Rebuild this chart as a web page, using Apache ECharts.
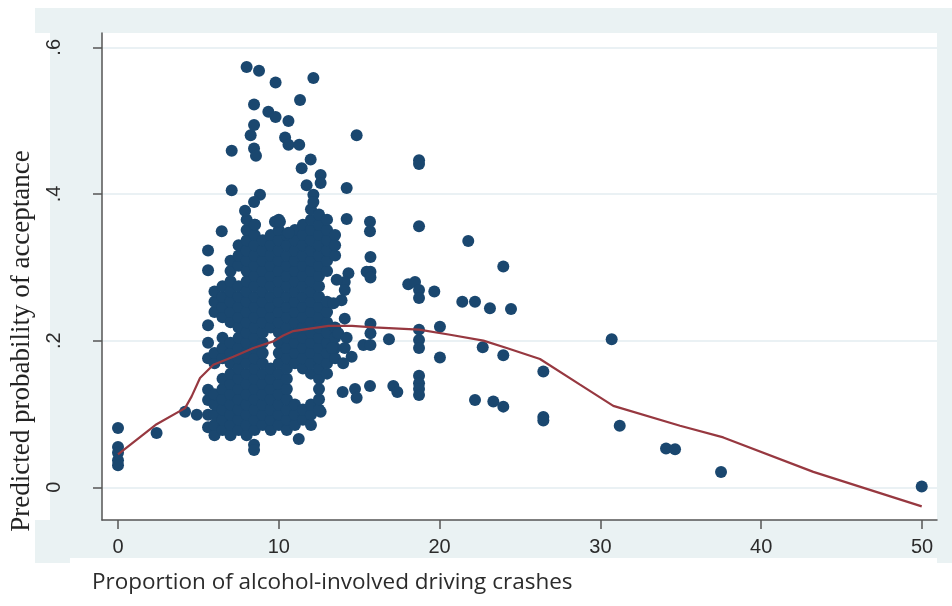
<!DOCTYPE html>
<html>
<head>
<meta charset="utf-8">
<script src="https://cdn.jsdelivr.net/npm/echarts@6/dist/echarts.min.js"></script>
<style>
  html, body { margin: 0; padding: 0; background: #fff; }
  #chart { width: 952px; height: 606px; }
</style>
</head>
<body>
<div id="chart"></div>
<script>
// tick labels
var xTicks = [0, 10, 20, 30, 40, 50];
var yTicks = [0, 0.2, 0.4, 0.6];
var yTickText = ['0', '.2', '.4', '.6'];

// scattered points [x, y]
var leftPoints = [
  [0, 0.081], [0, 0.055], [0, 0.047], [0, 0.037], [0, 0.030],
  [2.4, 0.074], [4.17, 0.103], [4.9, 0.099],
  [8.46, 0.058], [8.46, 0.051], [11.24, 0.066], [12.6, 0.103]
];

// dense block, one entry per column: [x, [y values]]
var clusterColumns = [
  [5.6, [0.082, 0.099, 0.119, 0.133, 0.176, 0.197, 0.221, 0.296, 0.323]],
  [6.0, [0.071, 0.085, 0.099, 0.113, 0.127, 0.169, 0.183, 0.239, 0.253, 0.267]],
  [6.5, [0.078, 0.092, 0.106, 0.120, 0.134, 0.148, 0.176, 0.190, 0.204, 0.232, 0.246, 0.260, 0.274]],
  [7.0, [0.071, 0.085, 0.099, 0.113, 0.127, 0.141, 0.155, 0.169, 0.183, 0.197, 0.225, 0.239, 0.253, 0.267, 0.281, 0.295, 0.309]],
  [7.5, [0.078, 0.092, 0.106, 0.120, 0.134, 0.148, 0.162, 0.176, 0.190, 0.204, 0.218, 0.232, 0.246, 0.260, 0.274, 0.302, 0.316, 0.330]],
  [8.0, [0.071, 0.085, 0.099, 0.113, 0.127, 0.141, 0.155, 0.169, 0.183, 0.197, 0.211, 0.225, 0.239, 0.253, 0.267, 0.281, 0.295, 0.309, 0.323, 0.337, 0.351, 0.365]],
  [8.5, [0.078, 0.092, 0.106, 0.120, 0.134, 0.148, 0.162, 0.176, 0.190, 0.204, 0.218, 0.232, 0.246, 0.260, 0.274, 0.288, 0.302, 0.316, 0.330, 0.344, 0.358]],
  [9.0, [0.085, 0.099, 0.113, 0.127, 0.141, 0.155, 0.169, 0.183, 0.197, 0.211, 0.225, 0.239, 0.253, 0.267, 0.281, 0.295, 0.309, 0.323, 0.337]],
  [9.5, [0.078, 0.092, 0.106, 0.120, 0.134, 0.148, 0.162, 0.218, 0.232, 0.246, 0.260, 0.274, 0.288, 0.302, 0.316, 0.330, 0.344]],
  [10.0, [0.085, 0.099, 0.113, 0.127, 0.141, 0.155, 0.169, 0.183, 0.197, 0.211, 0.225, 0.239, 0.253, 0.267, 0.281, 0.295, 0.309, 0.323, 0.337, 0.351, 0.365]],
  [10.5, [0.078, 0.092, 0.106, 0.120, 0.134, 0.148, 0.162, 0.176, 0.190, 0.204, 0.218, 0.232, 0.246, 0.260, 0.274, 0.288, 0.302, 0.316, 0.330, 0.344]],
  [11.0, [0.085, 0.099, 0.113, 0.169, 0.183, 0.197, 0.211, 0.225, 0.239, 0.253, 0.267, 0.281, 0.295, 0.309, 0.323, 0.337, 0.351]],
  [11.5, [0.092, 0.106, 0.162, 0.176, 0.190, 0.204, 0.218, 0.232, 0.246, 0.260, 0.274, 0.288, 0.302, 0.316, 0.330, 0.344, 0.358]],
  [12.0, [0.085, 0.099, 0.113, 0.155, 0.169, 0.183, 0.197, 0.211, 0.225, 0.239, 0.253, 0.267, 0.281, 0.295, 0.309, 0.323, 0.337, 0.351, 0.365, 0.379]],
  [12.5, [0.106, 0.120, 0.134, 0.148, 0.162, 0.176, 0.190, 0.204, 0.218, 0.232, 0.246, 0.260, 0.274, 0.288, 0.302, 0.316, 0.330, 0.344, 0.358, 0.372]],
  [13.0, [0.155, 0.169, 0.183, 0.197, 0.211, 0.225, 0.239, 0.253, 0.295, 0.309, 0.323, 0.337, 0.351, 0.365]],
  [13.5, [0.176, 0.190, 0.204, 0.218, 0.316, 0.330, 0.344]]
];

var upperPoints = [
  [8.0, 0.573], [8.77, 0.568], [9.8, 0.552], [12.15, 0.558], [8.46, 0.522], [11.32, 0.528],
  [9.35, 0.512], [9.8, 0.505], [10.6, 0.4995], [14.84, 0.480], [8.46, 0.494], [8.25, 0.480],
  [10.39, 0.477], [10.6, 0.467], [11.27, 0.467], [7.07, 0.459], [8.46, 0.462], [8.58, 0.452],
  [11.98, 0.447], [11.42, 0.435], [12.6, 0.426], [11.73, 0.412], [12.6, 0.415], [12.15, 0.399],
  [12.15, 0.389], [14.22, 0.408], [7.07, 0.405], [8.83, 0.399], [8.46, 0.389], [7.9, 0.377],
  [6.45, 0.349], [8.52, 0.358], [9.76, 0.362], [10.07, 0.362], [10.6, 0.347], [14.22, 0.366],
  [15.67, 0.362], [15.67, 0.349]
];

var rightPoints = [
  [18.72, 0.446], [18.72, 0.441], [18.72, 0.356], [15.7, 0.314], [15.7, 0.294], [15.46, 0.294],
  [15.7, 0.286], [14.33, 0.292], [14.1, 0.280], [14.1, 0.269], [13.9, 0.255], [13.6, 0.283],
  [13.4, 0.251], [18.05, 0.277], [18.47, 0.280], [18.72, 0.269], [18.72, 0.258], [19.67, 0.267],
  [14.1, 0.230], [13.7, 0.210], [14.22, 0.204], [13.3, 0.190], [20.02, 0.219], [15.7, 0.223],
  [15.7, 0.210], [15.26, 0.194], [15.7, 0.194], [16.85, 0.202], [18.72, 0.215], [18.72, 0.201],
  [18.72, 0.190], [20.02, 0.177], [14.1, 0.190], [14.53, 0.178], [14.0, 0.169], [13.97, 0.130],
  [14.74, 0.134], [14.84, 0.122], [15.67, 0.138], [17.12, 0.138], [17.37, 0.130], [18.72, 0.152],
  [18.72, 0.142], [18.72, 0.134], [18.72, 0.126],
  [21.78, 0.336], [23.96, 0.301], [21.41, 0.253], [22.2, 0.253], [23.13, 0.244], [24.44, 0.243],
  [22.68, 0.191], [23.96, 0.180], [26.45, 0.158], [22.2, 0.119], [23.34, 0.117], [23.96, 0.110],
  [26.45, 0.096], [26.45, 0.091], [30.7, 0.202], [31.2, 0.084],
  [34.08, 0.053], [34.64, 0.052], [37.5, 0.021], [49.98, 0.001]
];

// fitted curve
var fitLine = [
  [0, 0.045], [2.4, 0.086], [4.17, 0.108], [4.58, 0.124], [5.1, 0.149], [5.93, 0.167],
  [7.17, 0.178], [8.42, 0.190], [9.66, 0.199], [10.28, 0.207], [10.9, 0.213], [12.15, 0.217],
  [13.1, 0.220], [14.55, 0.220], [15.9, 0.218], [18.72, 0.215], [20.65, 0.208], [22.72, 0.200],
  [24.17, 0.190], [26.24, 0.175], [28.73, 0.140], [30.8, 0.111], [34.95, 0.084], [37.64, 0.068],
  [43.24, 0.021], [49.98, -0.026]
];

var scatterData = [].concat(leftPoints);
clusterColumns.forEach(function (col) {
  col[1].forEach(function (y) { scatterData.push([col[0], y]); });
});
scatterData = scatterData.concat(upperPoints, rightPoints);

var bg = '#eaf2f3';
var tickFont = { fontFamily: 'Liberation Sans', fontSize: 20, color: '#2b2b2b' };

var chart = echarts.init(document.getElementById('chart'));
chart.setOption({
  animation: false,
  backgroundColor: '#fff',
  graphic: [
    { type: 'rect', z: -10, shape: { x: 35, y: 8, width: 917, height: 25 }, style: { fill: bg } },
    { type: 'rect', z: -10, shape: { x: 50, y: 33, width: 52, height: 487 }, style: { fill: bg } },
    { type: 'rect', z: -10, shape: { x: 937, y: 33, width: 15, height: 530 }, style: { fill: bg } },
    { type: 'rect', z: -10, shape: { x: 35, y: 520, width: 902, height: 38 }, style: { fill: bg } },
    { type: 'rect', z: -10, shape: { x: 35, y: 545, width: 35, height: 18 }, style: { fill: bg } },
    {
      type: 'text', left: 92, top: 571,
      style: { text: 'Proportion of alcohol-involved driving crashes', fontFamily: 'Open Sans', fontSize: 22.5, fill: '#2b2b2b' }
    },
    {
      type: 'text', x: 22, y: 341, rotation: Math.PI / 2,
      style: {
        text: 'Predicted probability of acceptance', fontFamily: 'Liberation Serif', fontSize: 27,
        fill: '#222', align: 'center', verticalAlign: 'middle'
      }
    }
  ],
  grid: { left: 102, right: 15, top: 33, bottom: 86 },
  xAxis: {
    type: 'value', min: -0.995, max: 50.93,
    axisLine: { show: true, onZero: false, lineStyle: { color: '#555', width: 1.5 } },
    axisTick: { show: true, length: 9, lineStyle: { color: '#555', width: 1.5 }, customValues: xTicks },
    axisLabel: Object.assign({ margin: 17, customValues: xTicks }, tickFont),
    splitLine: { show: false }
  },
  yAxis: {
    type: 'value', min: -0.0446, max: 0.6195,
    axisLine: { show: true, onZero: false, lineStyle: { color: '#555', width: 1.5 } },
    axisTick: { show: true, length: 9, lineStyle: { color: '#555', width: 1.5 }, customValues: yTicks },
    axisLabel: Object.assign({
      margin: 38, rotate: 90, customValues: yTicks,
      formatter: function (v) { return yTickText[yTicks.indexOf(Math.round(v * 10) / 10)]; }
    }, tickFont),
    splitLine: { show: true, lineStyle: { color: '#e3edf0', width: 1.5 } }
  },
  series: [
    {
      type: 'scatter', data: scatterData, symbolSize: 12,
      itemStyle: { color: '#1a476f', opacity: 1 }, z: 2
    },
    {
      type: 'line', data: fitLine, showSymbol: false, symbol: 'none', smooth: false,
      lineStyle: { color: '#973840', width: 2.2 }, z: 10
    }
  ]
});
</script>
</body>
</html>
